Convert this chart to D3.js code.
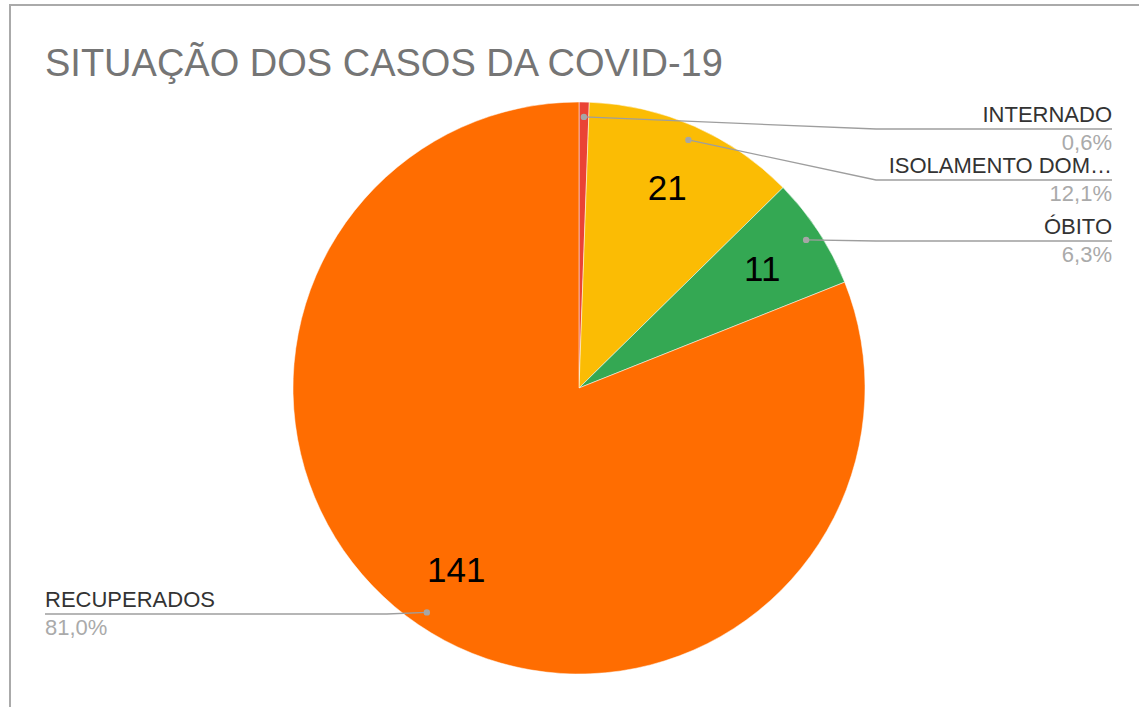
<!DOCTYPE html>
<html>
<head>
<meta charset="utf-8">
<script src="https://cdnjs.cloudflare.com/ajax/libs/d3/7.8.5/d3.min.js"></script>
<style>
  html, body { margin: 0; padding: 0; background: #fff; }
  svg { display: block; }
  text { font-family: "Liberation Sans", Arial, sans-serif; }
</style>
</head>
<body>
<svg id="chart" width="1139" height="707"></svg>
<script>
const title = "SITUAÇÃO DOS CASOS DA COVID-19";
const categories = ["INTERNADO", "ISOLAMENTO DOMICILIAR", "ÓBITO", "RECUPERADOS"];
const legendNames = ["INTERNADO", "ISOLAMENTO DOM…", "ÓBITO", "RECUPERADOS"];
const values = [1, 21, 11, 141];
const colors = ["#ea4335", "#fbbc04", "#34a853", "#ff6d01"];

const W = 1139, H = 707;
const svg = d3.select("#chart");

// frame
svg.append("path")
  .attr("d", `M10,${H} L10,5 L${W},5`)
  .attr("fill", "none").attr("stroke", "#aaa").attr("stroke-width", 2);

// title
svg.append("text")
  .attr("x", 45).attr("y", 76)
  .attr("font-size", 38).attr("fill", "#757575")
  .text(title);

const cx = 579, cy = 388, R = 286;
const g = svg.append("g").attr("transform", `translate(${cx},${cy})`);

const total = d3.sum(values);
const data = categories.map((c, i) => ({ name: c, label: legendNames[i], value: values[i], color: colors[i] }));
const pie = d3.pie().value(d => d.value).sort(null).startAngle(0).endAngle(2 * Math.PI);
const arcs = pie(data);
const arc = d3.arc().innerRadius(0).outerRadius(R);
const labelArc = d3.arc().innerRadius(R * 0.765).outerRadius(R * 0.765);
const dotArc = d3.arc().innerRadius(R * 0.948).outerRadius(R * 0.948);

g.selectAll("path.slice").data(arcs).enter().append("path")
  .attr("class", "slice")
  .attr("d", arc)
  .attr("fill", d => d.data.color)
  .attr("stroke", "#fff").attr("stroke-width", 0.5);

// value labels inside slices (skip tiny)
g.selectAll("text.val").data(arcs.filter(d => d.value / total > 0.03)).enter().append("text")
  .attr("class", "val")
  .attr("transform", d => `translate(${labelArc.centroid(d)})`)
  .attr("text-anchor", "middle")
  .attr("dy", "0.36em")
  .attr("font-size", 35).attr("fill", "#000")
  .text(d => d.value);

// leader labels
const fmt = v => (v / total * 100).toFixed(1).replace(".", ",") + "%";
const slots = [
  { lineY: 129, side: "right", bendX: 876 },
  { lineY: 180, side: "right", bendX: 876 },
  { lineY: 241, side: "right", bendX: 876 },
  { lineY: 614, side: "left", bendX: 300 }
];
const rightX = 1112, leftX = 45;

arcs.forEach((d, i) => {
  const s = slots[i];
  const [dx, dy] = dotArc.centroid(d);
  const px = cx + dx, py = cy + dy;
  const endX = s.side === "right" ? rightX : leftX;
  const pts = [[px, py], [s.bendX, s.lineY], [endX, s.lineY]];
  if (s.side === "left") pts[1] = [px - 40, s.lineY];
  svg.append("path")
    .attr("d", d3.line()(pts))
    .attr("fill", "none").attr("stroke", "#9e9e9e").attr("stroke-width", 1.3);
  svg.append("circle").attr("cx", px).attr("cy", py).attr("r", 3.2).attr("fill", "#a6a6a6");
  const anchor = s.side === "right" ? "end" : "start";
  svg.append("text")
    .attr("x", endX).attr("y", s.lineY - 7)
    .attr("text-anchor", anchor)
    .attr("font-size", 22).attr("fill", "#333")
    .text(d.data.label);
  svg.append("text")
    .attr("x", endX).attr("y", s.lineY + 21)
    .attr("text-anchor", anchor)
    .attr("font-size", 22).attr("fill", "#aaaaaa")
    .text(fmt(d.value));
});
</script>
</body>
</html>
